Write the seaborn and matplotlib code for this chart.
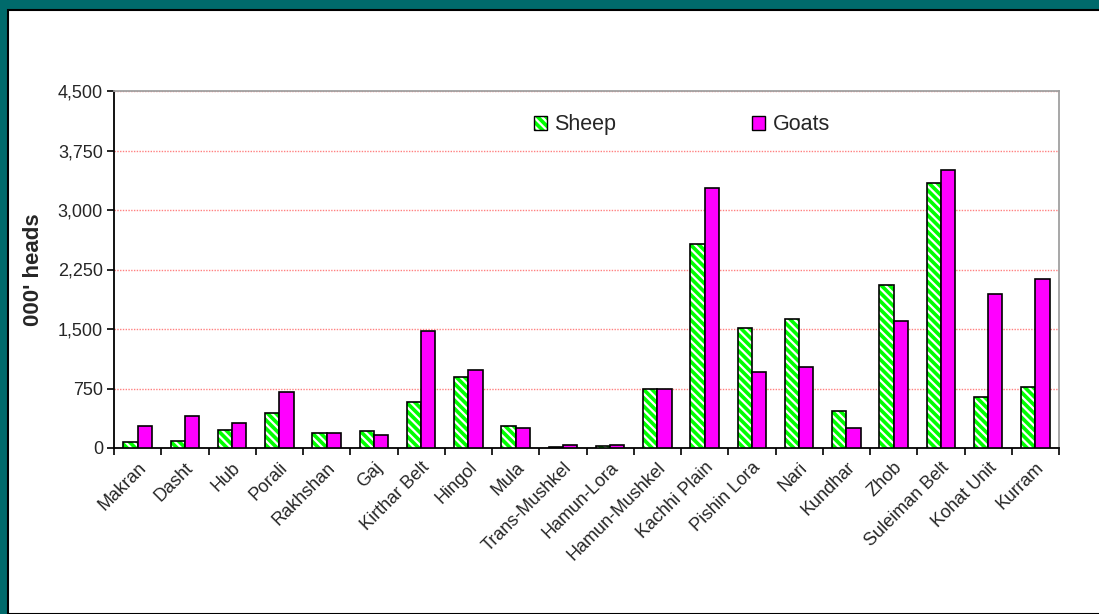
import matplotlib
matplotlib.use("Agg")
import matplotlib.pyplot as plt
from matplotlib.patches import Rectangle, Patch
from matplotlib.ticker import FixedLocator, FuncFormatter
import seaborn as sns
import pandas as pd

regions = ["Makran", "Dasht", "Hub", "Porali", "Rakhshan", "Gaj", "Kirthar Belt",
           "Hingol", "Mula", "Trans-Mushkel", "Hamun-Lora", "Hamun-Mushkel",
           "Kachhi Plain", "Pishin Lora", "Nari", "Kundhar", "Zhob",
           "Suleiman Belt", "Kohat Unit", "Kurram"]
sheep = [72, 88, 224, 443, 190, 215, 581, 894, 278, 18, 20, 750,
         2570, 1518, 1624, 464, 2049, 3337, 638, 765]
goats = [274, 400, 321, 704, 195, 169, 1475, 982, 253, 43, 43, 750,
         3275, 957, 1024, 248, 1598, 3506, 1941, 2135]
series = ["Sheep", "Goats"]
y_ticks = [0, 750, 1500, 2250, 3000, 3750, 4500]

df = pd.DataFrame({
    "Region": regions * 2,
    "Series": ["Sheep"] * len(regions) + ["Goats"] * len(regions),
    "Heads": sheep + goats,
})

sns.set_theme(style="white")
plt.rcParams["font.family"] = ["Liberation Sans", "DejaVu Sans"]
plt.rcParams["hatch.linewidth"] = 1.6

TEAL = "#006A6B"
GREEN = "#00FF00"
MAGENTA = "#FF00FF"

fig = plt.figure(figsize=(10.99, 6.14), dpi=100, facecolor=TEAL)
W, H = 1099, 614
panel = Rectangle((8 / W, 0), 1 - 8 / W + 0.01, 1 - 10 / H, transform=fig.transFigure,
                  facecolor="white", edgecolor="black", linewidth=1.5, zorder=-10)
fig.patches.append(panel)

ax = fig.add_axes([114 / W, 1 - 448 / H, (1059 - 114) / W, (448 - 91) / H])
ax.set_zorder(1)
ax.set_facecolor("none")

sns.barplot(data=df, x="Region", y="Heads", hue="Series", order=regions,
            hue_order=series, palette={"Sheep": GREEN, "Goats": MAGENTA},
            width=0.6, dodge=True, ax=ax, edgecolor="black", linewidth=1.2,
            saturation=1, errorbar=None, legend=False, zorder=3)


def set_hatch_white(p):
    p.set_hatch("\\\\\\\\")
    if hasattr(p, "set_hatchcolor"):
        p.set_hatchcolor("white")
    else:
        p._hatch_color = (1, 1, 1, 1)


for bar in ax.containers[0]:
    set_hatch_white(bar)

ax.set_ylim(0, 4500)
ax.set_xlim(-0.5, len(regions) - 0.5)
ax.yaxis.set_major_locator(FixedLocator(y_ticks))
ax.yaxis.set_major_formatter(FuncFormatter(lambda v, p: f"{int(v):,}"))
ax.yaxis.grid(True, color="#FF8080", linestyle=(0, (1, 1)), linewidth=1.0, zorder=0)
ax.set_axisbelow(True)

ax.set_xticks(range(len(regions)))
ax.set_xticklabels(regions, rotation=45, ha="right", rotation_mode="anchor",
                   fontsize=13)
ax.set_xticks([i - 0.5 for i in range(len(regions) + 1)], minor=True)
ax.tick_params(axis="x", which="major", length=0, pad=8)
ax.tick_params(axis="x", which="minor", length=5, width=1.2, color="black",
               direction="out", bottom=True)
ax.tick_params(axis="y", length=5, width=1.2, color="black", direction="out",
               left=True, labelsize=13, pad=3)

ax.set_xlabel("")
ax.set_ylabel("000' heads", fontsize=16, fontweight="bold", labelpad=10)

for side in ["left", "bottom"]:
    ax.spines[side].set_color("black")
    ax.spines[side].set_linewidth(1.3)
for side in ["top", "right"]:
    ax.spines[side].set_visible(True)
    ax.spines[side].set_color("#A0A0A0")
    ax.spines[side].set_linewidth(1.3)

h_sheep = Patch(facecolor=GREEN, edgecolor="black", linewidth=1.0)
set_hatch_white(h_sheep)
h_goat = Patch(facecolor=MAGENTA, edgecolor="black", linewidth=1.0)
leg = ax.legend([h_sheep, h_goat], series, loc="center left",
                bbox_to_anchor=(0.424, 0.905), ncol=2, frameon=False,
                fontsize=15.5, handlelength=0.6, handleheight=0.6,
                handletextpad=0.35, columnspacing=6.3)

fig.savefig("out.png", dpi=100, facecolor=TEAL)
